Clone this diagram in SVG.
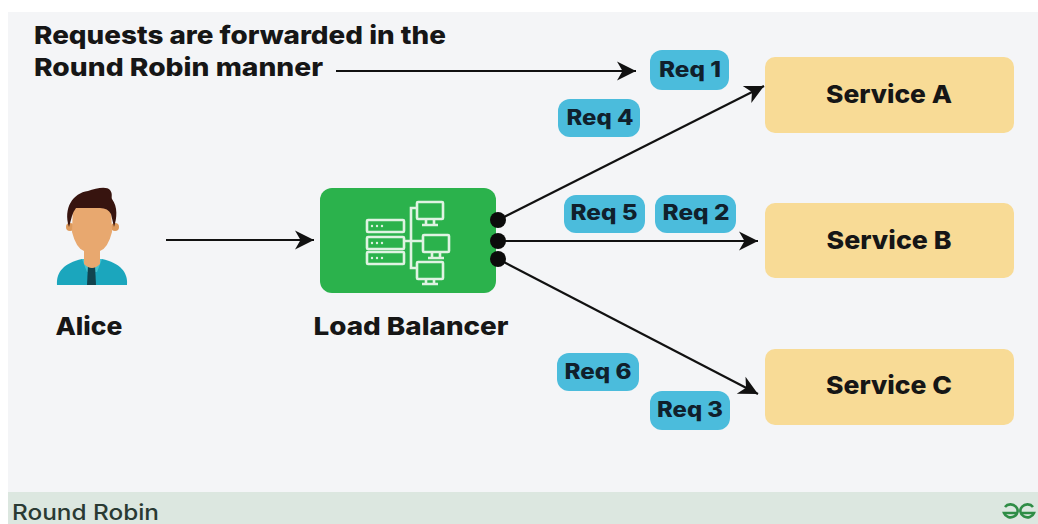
<svg xmlns="http://www.w3.org/2000/svg" width="1038" height="524" viewBox="0 0 1038 524">
<defs>
<marker id="ah" markerUnits="userSpaceOnUse" markerWidth="24" markerHeight="24" refX="22" refY="12" orient="auto"><path d="M3 2.5 L22 12 L3 21.5 L8.5 12 Z" fill="#111"/></marker>
</defs>
<style>
text{font-family:Inter,"Liberation Sans",sans-serif;font-weight:800;fill:#161616}
.conn{stroke:#111;stroke-width:2.2;fill:none;marker-end:url(#ah)}
.svc{fill:#f8db96}
.req{fill:#4bbcdc}
.t{font-size:25px;text-anchor:middle}
.r{font-size:21px;text-anchor:middle;fill:#10202c}
.ic{fill:none;stroke:#dff3e2;stroke-width:2.6}
.dots{fill:#dff3e2}
</style>
<rect width="1038" height="524" fill="#ffffff"/>
<rect x="8" y="12" width="1030" height="480" fill="#f4f5f7"/>
<rect x="8" y="492" width="1030" height="32" fill="#dce7e0"/>
<text x="34" y="44" style="font-size:25px" textLength="412" lengthAdjust="spacingAndGlyphs">Requests are forwarded in the</text>
<text x="34" y="76" style="font-size:25px" textLength="289" lengthAdjust="spacingAndGlyphs">Round Robin manner</text>
<g id="connectors">
<line class="conn" x1="336" y1="71" x2="636" y2="71"/>
<line class="conn" x1="166" y1="240" x2="314" y2="240"/>
<line class="conn" x1="498" y1="220" x2="764" y2="86"/>
<line class="conn" x1="498" y1="241" x2="758" y2="241"/>
<line class="conn" x1="498" y1="259" x2="758" y2="394"/>
</g>
<g id="alice">
<path d="M57 285 C56 272 64 263 82 259 L102 259 C120 263 128 272 127 285 Z" fill="#1ba6bd"/>
<path d="M82 259 L102 259 L97 272 L87 272 Z" fill="#45c2cf"/>
<path d="M88 265 L95 265 L96 285 L87 285 Z" fill="#12444f"/>
<circle cx="70" cy="227" r="4" fill="#dd9a5c"/><circle cx="115" cy="227" r="4" fill="#dd9a5c"/>
<path d="M73 205 L111 205 L112 232 Q108 248 100 251 L100 264 Q92 272 84 264 L84 251 Q76 248 72 232 Z" fill="#e8a86f"/>
<path d="M69 227 C63 208 73 193 88 191 C96 188 107 186 110 190 C113 194 111 197 112 199 C118 207 117 218 114 227 L111 214 Q108 208 100 208 L76 208 Q73 212 72 216 Z" fill="#37140f"/>
<text class="t" x="89" y="335" textLength="67" lengthAdjust="spacingAndGlyphs">Alice</text>
</g>
<g id="load-balancer">
<rect x="320" y="188" width="176" height="105" rx="12" fill="#2bb24c"/>
<g class="ic">
<rect x="367" y="220" width="37" height="12" rx="1"/><rect x="367" y="237" width="37" height="12" rx="1"/><rect x="367" y="252" width="37" height="12" rx="1"/>
<path d="M404 241 H422 M417 208 H411 V268 H417"/>
<rect x="417" y="202" width="26" height="17" rx="1"/><path d="M426 219 V225 M434 219 V225 M422 225 H438"/>
<rect x="423" y="235" width="26" height="17" rx="1"/><path d="M432 252 V258 M440 252 V258 M428 258 H444"/>
<rect x="417" y="262" width="26" height="17" rx="1"/><path d="M426 279 V284 M434 279 V284 M422 284 H438"/>
</g>
<g class="dots">
<circle cx="372" cy="226" r="1.2"/><circle cx="377" cy="226" r="1.2"/><circle cx="382" cy="226" r="1.2"/>
<circle cx="372" cy="243" r="1.2"/><circle cx="377" cy="243" r="1.2"/><circle cx="382" cy="243" r="1.2"/>
<circle cx="372" cy="258" r="1.2"/><circle cx="377" cy="258" r="1.2"/><circle cx="382" cy="258" r="1.2"/>
</g>
<circle cx="498" cy="220" r="8" fill="#0b0b0b"/><circle cx="498" cy="241" r="8" fill="#0b0b0b"/><circle cx="498" cy="259" r="8" fill="#0b0b0b"/>
<text class="t" x="411" y="335" textLength="195" lengthAdjust="spacingAndGlyphs">Load Balancer</text>
</g>
<g id="service-a"><rect class="svc" x="765" y="57" width="249" height="76" rx="10"/><text class="t" x="889" y="103" textLength="126" lengthAdjust="spacingAndGlyphs">Service A</text></g>
<g id="service-b"><rect class="svc" x="765" y="203" width="249" height="75" rx="10"/><text class="t" x="889" y="249" textLength="125" lengthAdjust="spacingAndGlyphs">Service B</text></g>
<g id="service-c"><rect class="svc" x="765" y="349" width="249" height="76" rx="10"/><text class="t" x="889" y="394" textLength="126" lengthAdjust="spacingAndGlyphs">Service C</text></g>
<g id="req-1"><rect class="req" x="650" y="50" width="79" height="40" rx="12"/><text class="r" x="690" y="77" textLength="62" lengthAdjust="spacingAndGlyphs">Req 1</text></g>
<g id="req-4"><rect class="req" x="558" y="99" width="82" height="38" rx="12"/><text class="r" x="600" y="125" textLength="67" lengthAdjust="spacingAndGlyphs">Req 4</text></g>
<g id="req-5"><rect class="req" x="564" y="195" width="81" height="38" rx="12"/><text class="r" x="604" y="220" textLength="67" lengthAdjust="spacingAndGlyphs">Req 5</text></g>
<g id="req-2"><rect class="req" x="655" y="195" width="81" height="38" rx="12"/><text class="r" x="696" y="220" textLength="67" lengthAdjust="spacingAndGlyphs">Req 2</text></g>
<g id="req-6"><rect class="req" x="557" y="353" width="82" height="38" rx="12"/><text class="r" x="598" y="379" textLength="67" lengthAdjust="spacingAndGlyphs">Req 6</text></g>
<g id="req-3"><rect class="req" x="650" y="391" width="80" height="39" rx="12"/><text class="r" x="690" y="417" textLength="66" lengthAdjust="spacingAndGlyphs">Req 3</text></g>
<text x="12" y="520" style="font-size:21px;font-weight:500;fill:#2a3a33" textLength="147" lengthAdjust="spacingAndGlyphs">Round Robin</text>
<g id="logo" fill="none" stroke="#2f8d46" stroke-width="2.6">
<path d="M1005 507 A7 6.5 0 1 1 1004 513 H1018"/>
<path d="M1033 507 A7 6.5 0 1 0 1034 513 H1020"/>
</g>
</svg>
